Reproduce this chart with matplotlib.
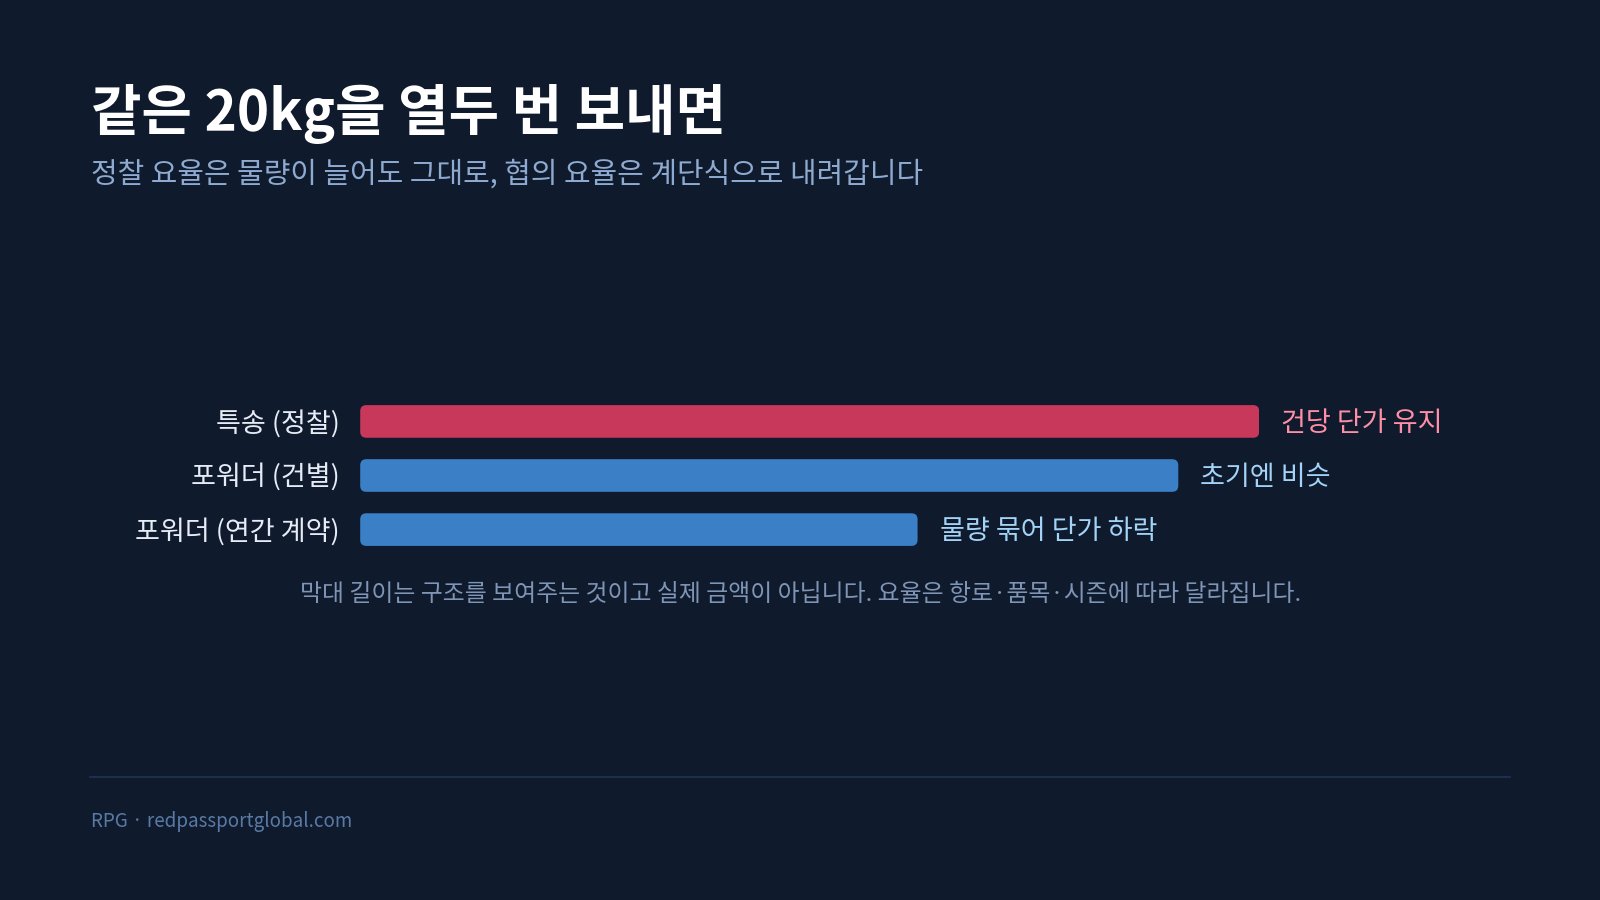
import matplotlib
matplotlib.use("Agg")
import matplotlib.pyplot as plt
from matplotlib.patches import FancyBboxPatch

plt.rcParams['font.family'] = ['Noto Sans CJK KR', 'DejaVu Sans']

# ---- data ----
categories = ["특송 (정찰)", "포워더 (건별)", "포워더 (연간 계약)"]
values = [100, 91, 62]
notes = ["건당 단가 유지", "초기엔 비슷", "물량 묶어 단가 하락"]
title = "같은 20kg을 열두 번 보내면"
subtitle = "정찰 요율은 물량이 늘어도 그대로, 협의 요율은 계단식으로 내려갑니다"
footnote = "막대 길이는 구조를 보여주는 것이고 실제 금액이 아닙니다. 요율은 항로·품목·시즌에 따라 달라집니다."
source = "RPG · redpassportglobal.com"

BG = "#0f1a2d"
bar_colors = ["#c8385a", "#3b7fc6", "#3b7fc6"]
note_colors = ["#ff8fa6", "#a3d3f7", "#a3d3f7"]

fig = plt.figure(figsize=(16, 9), dpi=100, facecolor=BG)

W, H = 1568.0, 882.0
def fx(px): return px / W
def fy(py): return 1 - py / H

# title texts
fig.text(fx(89), fy(127), title, color="white", fontsize=39.5, fontweight="bold",
         ha="left", va="baseline")
fig.text(fx(89), fy(179), subtitle, color="#8eaad0", fontsize=20.8,
         ha="left", va="baseline")

# bar axes
left = fx(353)
width = fx(1234) - left
bottom = fy(545.5)
height = 159 / H
ax = fig.add_axes([left, bottom, width, height])
ax.set_facecolor(BG)
ax.set_xlim(0, 100)
ax.set_ylim(2.5, -0.5)
ax.axis("off")

ypos = list(range(len(categories)))
bh = 32 / 53
bars = ax.barh(ypos, values, height=bh, color=bar_colors)

# replace bars with rounded versions
xr = 100 / 881.0 * 6   # 6 px radius in x units
yr = 1 / 53.0 * 6      # 6 px radius in y units
for b, c in zip(bars, bar_colors):
    b.set_visible(False)
    p = FancyBboxPatch((b.get_x(), b.get_y()), b.get_width(), b.get_height(),
                       boxstyle=f"round,pad=0,rounding_size={xr}",
                       mutation_aspect=yr / xr, facecolor=c, edgecolor="none")
    ax.add_patch(p)

for y, cat, v, n, nc in zip(ypos, categories, values, notes, note_colors):
    ax.annotate(cat, xy=(0, y), xytext=(-14.5, -1.5), textcoords="offset points",
                ha="right", va="center", color="#e6ecf5", fontsize=19.5, annotation_clip=False)
    ax.annotate(n, xy=(v, y), xytext=(16, -1.5), textcoords="offset points",
                ha="left", va="center", color=nc, fontsize=19.5, annotation_clip=False)

fig.text(fx(784.5), fy(583), footnote, color="#7f95b5", fontsize=17.2,
         ha="center", va="center")

# footer line
fig.add_artist(plt.Line2D([fx(88), fx(1480)], [fy(761), fy(761)], color="#1f3453", lw=1.2))
fig.text(fx(89), fy(810), source, color="#5a7aa6", fontsize=13.5, ha="left", va="baseline")

fig.savefig("out.png", dpi=100, facecolor=BG)
